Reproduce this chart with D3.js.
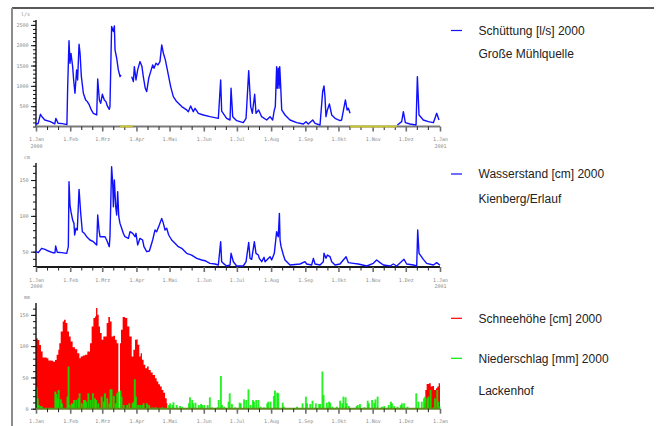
<!DOCTYPE html>
<html>
<head>
<meta charset="utf-8">
<script src="https://cdnjs.cloudflare.com/ajax/libs/d3/7.8.5/d3.min.js"></script>
<style>
  body { margin: 0; background: #fff; }
  svg { display: block; }
  .tick text { font-family: "DejaVu Sans Mono", monospace; font-size: 5px; fill: #8a8a8a; }
  .legend text { font-family: "Liberation Sans", Arial, sans-serif; font-size: 12px; fill: #222; }
</style>
</head>
<body>
<svg id="chart" width="656" height="426"></svg>
<script>
// Monats-Beschriftung der x-Achsen
const monthLabels = ["1.Jan","1.Feb","1.Mrz","1.Apr","1.Mai","1.Jun","1.Jul","1.Aug","1.Sep","1.Okt","1.Nov","1.Dez","1.Jan"];
const yearLabels = ["2000","2001"];

// Schüttung [l/s] Große Mühlquelle  ([Tag seit 1.Jan, Wert], null = Lücke)
const flowPts = [[0,62],[2,75],[4,300],[6,220],[8,160],[13,120],[17,62],[18,200],[20,80],[24,70],[28,45],[28.7,980],[29.9,2110],[30.8,1556],[31.7,1800],[33.2,1474],[34.1,1145],[35.3,817],[36.8,1392],[37.7,1145],[39,2024],[39.9,1800],[41.1,1227],[42.9,817],[45,653],[46.5,612],[48.3,530],[50.1,407],[52,325],[55,283],[55.9,1170],[57.4,653],[58.6,571],[60.1,792],[61.9,653],[63.4,612],[64.6,505],[66.4,423],[67,490],[68.5,2459],[70.1,2336],[71,2475],[71.6,1884],[73.1,1679],[74.6,1392],[76.1,1227],[77,1268],[77.5,null],
  [86.7,1227],[88.2,1104],[89.1,1474],[90.6,1145],[92.1,1392],[94.2,1597],[96,1474],[97.2,1227],[99,940],[100.3,858],[102.1,1186],[103.9,1351],[105.7,1515],[106.9,1433],[108.7,1556],[110.5,1515],[112.3,1597],[113.9,2007],[115.4,1802],[117.2,1638],[120.2,1227],[122,981],[124.4,735],[127.4,612],[132,489],[136.5,407],[138,365],[140.1,505],[142.5,365],[144.1,448],[147.1,325],[151.6,283],[157.6,242],[165.2,201],[167.3,1145],[168.2,380],[172.7,201],[175.8,160],[176.7,940],[178.2,242],[181.8,144],[187.8,94],[190.3,201],[192.7,1375],[194.5,489],[196,325],[198.1,792],[199.3,325],[201.7,407],[204.4,242],[209,160],[212,242],[214.4,160],[215.9,407],[216.8,489],[218,1474],[218.6,940],[219.5,1433],[220.2,940],[220.8,1474],[221.7,981],[222.6,407],[225.6,283],[230.1,160],[236.2,94],[242.2,62],[244.6,119],[246.7,62],[250.7,160],[252.8,78],[257.3,37],[259.7,858],[260.9,998],[261.8,735],[262.7,242],[264,407],[265.8,554],[267.9,283],[270.9,201],[275.4,144],[276.9,160],[280.3,653],[281.8,407],[283,448],[284.5,325],[285,null],
  [327.4,37],[331.3,119],[332.8,365],[334.6,94],[338.8,62],[344.3,37],[345.5,1227],[347,283],[350.9,160],[355.4,119],[360,94],[363,325],[365.1,160]];
// Zeiträume ohne Schüttungsdaten (gelb markiert)
const flowGapFrom = [76, 284.5];
const flowGapTo = [87.6, 326.8];

// Wasserstand [cm] Kienberg/Erlauf
const levelPts = [[0,50],[2.1,48.6],[5.1,54.7],[8.2,53.3],[11.2,50.9],[15.1,48.6],[17.2,48.6],[17.8,57.9],[19.3,49.1],[23.3,48.6],[27.8,47.7],[29.3,57],[29.9,147.7],[30.8,115.1],[31.7,105.8],[33.2,94.2],[34.4,89.5],[35,73.3],[36.2,82.6],[37.4,80.2],[39,137],[40.5,103.5],[42,77.9],[43.8,75.6],[45.9,70.9],[48.9,66.3],[52,64],[55,59.3],[55.9,101.2],[57.1,80.2],[58,70.9],[62.5,70.9],[64,66.3],[66.4,57],[67,70.9],[68.5,168.6],[69.5,145.3],[70.1,112.8],[71,150],[72.2,112.8],[73.1,101.2],[74,133.7],[75,98.8],[76.1,89.5],[77.6,82.6],[79.1,75.6],[80.6,70.9],[83.7,68.6],[85.2,77.9],[87.6,75.6],[89.7,70.9],[90.6,75.6],[92.1,59.3],[94.2,68.6],[96.6,66.3],[97.8,57],[100.3,50],[102.7,50.9],[105.7,66.3],[107.8,80.2],[109.3,77.9],[111.7,87.2],[113.9,96.5],[115.4,89.5],[116.9,80.2],[118.4,82.6],[120.2,73.3],[122.9,66.3],[125.9,61.6],[128.9,57],[132,54.7],[136.5,47.7],[141,45.3],[145.6,40.7],[150.1,38.4],[153.1,37.4],[157.6,33.7],[162.2,32.8],[165.2,31.4],[167.3,64],[168.2,36],[169.7,33.7],[172.7,30],[175.8,31.4],[176.7,47.7],[178.8,36],[181.8,30],[187.8,30],[190.3,36],[192.7,63],[193.9,40.7],[195.4,39.3],[197.8,64],[199.3,47.7],[201.4,45.3],[202.3,40.7],[204.5,36],[206.6,42.1],[207.5,36],[212,43],[213.5,38.4],[215.9,47.7],[218,77.9],[219.5,70.9],[220.5,103.5],[221.1,66.3],[222,57],[224.1,45.3],[225.6,38.4],[230.1,31.4],[239.2,32.8],[243.7,36],[245.2,32.8],[249.7,31.4],[251.3,40.7],[252.8,32.8],[257.3,31.4],[260.3,36],[260.9,47.7],[262.7,40.7],[264,45.3],[266.4,43],[267.9,36],[270.9,31.4],[275.4,32.8],[280.9,43],[283,34.7],[287.5,33.7],[292,32.8],[299.6,30],[305.6,33.7],[308.6,38.4],[311.7,34.7],[314.7,31.4],[320.7,30],[323.7,32.8],[326.8,30],[333.4,39.3],[335.8,32.8],[341.9,31.4],[344.9,30],[345.8,80.2],[347,47.7],[350.9,39.3],[353.9,33.7],[360,31.4],[363,34.7],[366,31]];

// Schneehöhe [cm] Lackenhof
const snowPts = [[0,112.8],[1.5,110],[3,102],[4.5,91.4],[6,81.8],[9.7,80.7],[11.2,77],[14.2,76.5],[15.7,74.9],[17.2,78],[18.7,86.1],[20.2,94.1],[21.1,104.8],[22.4,123.5],[24.2,139.6],[25.4,142.2],[26.9,136.9],[28.4,123.5],[29.9,115.5],[31.4,107.5],[33.2,98.4],[35.3,95.2],[37.4,88.8],[39.3,80.7],[40.5,83.4],[42.3,85],[44.4,86.1],[46.5,91.4],[48.9,104.8],[50.4,131.6],[52,144.9],[53.5,147.6],[54.4,161],[55.6,150.3],[56.8,131.6],[58,120.9],[59.5,110.2],[61,115.5],[62.5,115.5],[64,136.9],[65.5,146.5],[67,139.6],[68.5,115.5],[70.1,116.6],[71.6,110.2],[73.1,104.8],[74.6,91.4],[75.5,null],
  [76.1,104.8],[77,126.2],[78.5,146.5],[80.6,144.9],[82.7,131.6],[84.6,115.5],[86.7,83.4],[88.2,94.1],[89.7,110.2],[91.2,111.2],[92.1,102.1],[93.6,83.4],[94.8,88.8],[96,78.1],[97.5,70.1],[99,64.7],[100.6,67.4],[102.1,62],[103.9,57.8],[105.7,54],[107.8,48.7],[109.3,43.3],[110.8,39],[112.3,35.3],[113.9,29.9],[115.4,25.7],[116.9,16.6],[118.4,8.6],[119,0.5],[119.5,null],
  [350.3,0],[351.5,8.6],[352.7,30],[353.9,39.6],[356,40.6],[357.6,35.3],[359.1,36.4],[360.6,30],[362.4,32.6],[363.6,35.3],[364.8,40.6],[366,40.6]];

// Niederschlag [mm] Lackenhof (Tagessummen)
const rainPts = [[0,34.2],[1,16.6],[2,5.9],[4,4.3],[5,3.2],[17,27.3],[18,23.5],[19,16.6],[20,29.9],[22,15],[23,8.6],[28,19.3],[29,67.4],[30,5.9],[32,8.6],[33,7.5],[34,13.9],[36,13.9],[38,16.6],[39,24.6],[41,8.6],[43,13.9],[44,13.9],[45,11.2],[47,24.6],[49,13.9],[51,24.6],[53,16.6],[54,13.9],[56,8.6],[59,19.3],[61,11.2],[62,24.6],[64,16.6],[66,8.6],[67,31],[68,31],[70,20.3],[72,8.6],[73,24.6],[74,27.3],[76,28.9],[77,19.3],[79,5.9],[82,5.9],[84,8.6],[87,8.6],[88,11.2],[89,47.1],[90,19.3],[92,5.9],[94,5.9],[96,5.9],[97,8.6],[100,8.6],[102,5.9],[105,2.1],[108,2.1],[114,2.1],[120,5.9],[121,8.6],[123,5.9],[124,10.2],[127,5.9],[130,4.3],[132,3.2],[138,8.6],[139,18.2],[141,13.9],[142,8.6],[144,9.6],[147,5.9],[149,7.5],[150,5.9],[152,5.9],[155,5.9],[157,18.2],[159,2.1],[164,2.1],[165,13.9],[167,52.4],[168,5.9],[170,3.2],[174,11.2],[175,24.6],[177,7.5],[180,2.1],[184,9.6],[185,8.6],[188,15],[190,13.9],[192,31],[194,5.9],[196,13.9],[197,11.2],[199,13.9],[201,13.9],[203,3.2],[206,2.1],[209,8.6],[210,11.2],[212,11.2],[215,20.3],[216,28.9],[218,25.7],[219,24.6],[223,9.6],[224,3.2],[236,3.2],[241,8.6],[244,19.3],[245,8.6],[248,7.5],[250,12.8],[253,8.6],[256,7.5],[257,7.5],[259,59.4],[260,21.9],[263,9.6],[265,11.2],[266,9.6],[268,3.2],[272,3.2],[275,12.8],[277,8.6],[278,19.3],[280,18.2],[281,8.6],[283,4.3],[290,4.3],[291,5.9],[293,7.5],[297,2.1],[300,12.8],[301,8.6],[304,13.9],[306,9.6],[307,15],[309,19.3],[313,3.2],[315,4.3],[319,5.9],[321,11.2],[322,8.6],[324,4.3],[327,3.2],[330,5.9],[331,8.6],[333,8.6],[336,3.2],[344,24.6],[346,11.2],[349,11.2],[351,16.6],[352,19.3],[354,16.6],[355,19.3],[357,29.9],[360,2.1],[361,16.6],[363,29.9],[364,11.2],[365,3.2]];

const flowTicks = [500, 1000, 1500, 2000, 2500];
const levelTicks = [50, 100, 150];
const snowTicks = [0, 50, 100, 150];

const svg = d3.select("#chart");
const t0 = Date.UTC(2000, 0, 1);
const dayMs = 86400000;
const toDate = d => new Date(t0 + d * dayMs);
const monthDates = d3.utcMonth.range(toDate(0), toDate(367));
const tenDays = d3.utcDay.range(toDate(0), toDate(366)).filter(d => d.getUTCDate() == 11 || d.getUTCDate() == 21);

const x = d3.scaleUtc().domain([toDate(0), toDate(366)]).range([36, 440]);

// Rahmen
svg.append("line").attr("x1", 12).attr("x2", 654).attr("y1", 8).attr("y2", 8)
  .attr("stroke", "#222").attr("stroke-width", 1.3);
svg.append("line").attr("x1", 12).attr("x2", 12).attr("y1", 8).attr("y2", 426)
  .attr("stroke", "#8c8c8c").attr("stroke-width", 2);

function drawAxes(y, major, minorStep, unit, baseColor, showYear) {
  const [lo, hi] = y.domain();
  const g = svg.append("g");
  // y-Achse
  const minor = d3.range(Math.ceil(lo / minorStep) * minorStep, hi, minorStep);
  g.append("g").attr("transform", "translate(36,0)")
    .call(d3.axisLeft(y).tickValues(minor).tickSize(3).tickFormat(""))
    .call(a => a.select(".domain").remove())
    .call(a => a.selectAll("line").attr("stroke", "#111"));
  g.append("g").attr("transform", "translate(36,0)")
    .call(d3.axisLeft(y).tickValues(major).tickSize(5).tickPadding(2.5).tickFormat(d3.format("d")))
    .call(a => a.select(".domain").remove())
    .call(a => a.selectAll("line").attr("stroke", "#111"));
  g.append("line").attr("x1", 36).attr("x2", 36).attr("y1", y.range()[1]).attr("y2", y.range()[0])
    .attr("stroke", "#111").attr("stroke-width", 1.4);
  g.append("text").attr("x", 30).attr("y", y.range()[1] - 4).attr("text-anchor", "end")
    .attr("font-family", "DejaVu Sans Mono, monospace").attr("font-size", 5).attr("fill", "#8a8a8a")
    .text(unit);
  // x-Achse
  const base = y.range()[0];
  g.append("line").attr("x1", x.range()[0]).attr("x2", x.range()[1]).attr("y1", base).attr("y2", base)
    .attr("stroke", baseColor).attr("stroke-width", 2);
  g.append("g").attr("transform", `translate(0,${base})`)
    .call(d3.axisBottom(x).tickValues(tenDays).tickSize(3.5).tickFormat(""))
    .call(a => a.select(".domain").remove())
    .call(a => a.selectAll("line").attr("stroke", "#222"));
  const ax = g.append("g").attr("transform", `translate(0,${base})`)
    .call(d3.axisBottom(x).tickValues(monthDates).tickSize(5).tickPadding(6)
      .tickFormat((d, i) => monthLabels[i]))
    .call(a => a.select(".domain").remove())
    .call(a => a.selectAll("line").attr("stroke", "#6e6e6e").attr("stroke-width", 1.6));
  if (showYear) {
    ax.selectAll(".tick").filter((d, i) => i == 0 || i == monthDates.length - 1)
      .append("text").attr("fill", "#8a8a8a").attr("y", 17.5).attr("dy", "0.71em")
      .text((d, i) => yearLabels[i]);
  }
  return g;
}

// Panel 1: Schüttung
const y1 = d3.scaleLinear().domain([0, 2620]).range([126.5, 20]);
const p1 = drawAxes(y1, flowTicks, 100, "l/s", "#7a7a7a", true);
flowGapFrom.forEach((f, i) => {
  p1.append("line").attr("x1", x(toDate(f))).attr("x2", x(toDate(flowGapTo[i])))
    .attr("y1", 126.5).attr("y2", 126.5).attr("stroke", "#c8c432").attr("stroke-width", 2);
});
svg.append("path").datum(flowPts)
  .attr("fill", "none").attr("stroke", "#1010ff").attr("stroke-width", 1.4).attr("stroke-linejoin", "round")
  .attr("d", d3.line().defined(d => d[1] != null).x(d => x(toDate(d[0]))).y(d => y1(d[1])));

// Panel 2: Wasserstand
const y2 = d3.scaleLinear().domain([28.6, 173.8]).range([267, 163]);
drawAxes(y2, levelTicks, 10, "cm", "#1a1a1a", true);
svg.append("path").datum(levelPts)
  .attr("fill", "none").attr("stroke", "#1010ff").attr("stroke-width", 1.4).attr("stroke-linejoin", "round")
  .attr("d", d3.line().x(d => x(toDate(d[0]))).y(d => y2(d[1])));

// Panel 3: Schneehöhe und Niederschlag
const y3 = d3.scaleLinear().domain([0, 169]).range([408.7, 303]);
svg.append("path").datum(snowPts)
  .attr("fill", "#ff0000")
  .attr("d", d3.area().defined(d => d[1] != null).curve(d3.curveStepAfter)
    .x(d => x(toDate(d[0]))).y0(y3(0)).y1(d => y3(d[1])));
const bw = x(toDate(1)) - x(toDate(0));
svg.append("g").selectAll("rect").data(rainPts).join("rect")
  .attr("x", d => x(toDate(d[0])) - 0.4)
  .attr("width", bw + 0.8)
  .attr("y", d => y3(d[1]))
  .attr("height", d => y3(0) - y3(d[1]))
  .attr("fill", "#00f000").attr("fill-opacity", 0.85);
drawAxes(y3, snowTicks, 10, "mm", "#5e8a1e", false);

// Legende
const legend = svg.append("g").attr("class", "legend");
const legendRows = [
  { y: 30.5, color: "#1010ff", text: "Schüttung [l/s] 2000" },
  { y: 54, text: "Große Mühlquelle" },
  { y: 174, color: "#1010ff", text: "Wasserstand [cm] 2000" },
  { y: 198.3, text: "Kienberg/Erlauf" },
  { y: 318.3, color: "#ff0000", text: "Schneehöhe [cm] 2000" },
  { y: 358.3, color: "#00ee00", text: "Niederschlag [mm] 2000" },
  { y: 390.7, text: "Lackenhof" }
];
legendRows.forEach(r => {
  if (r.color) legend.append("rect").attr("x", 451).attr("y", r.y - 0.6).attr("width", 11).attr("height", 1.2)
    .attr("fill", r.color);
  legend.append("text").attr("x", 478.5).attr("y", r.y).attr("dy", "0.35em").text(r.text);
});
</script>
</body>
</html>
